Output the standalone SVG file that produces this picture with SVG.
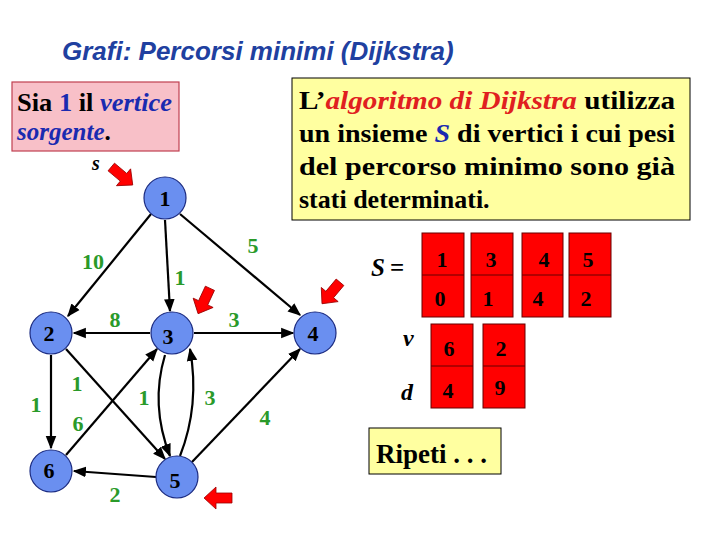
<svg xmlns="http://www.w3.org/2000/svg" width="720" height="540" viewBox="0 0 720 540">
<defs>
<marker id="ah" viewBox="0 0 10 10" refX="9" refY="5" markerWidth="6" markerHeight="6" orient="auto"><path d="M0,1 L10,5 L0,9 Z" fill="#000"/></marker>
<polygon id="ptr" points="-14,-5 2,-5 2,-11 14,0 2,11 2,5 -14,5" fill="#f00" stroke="#900" stroke-width="0.8"/>
</defs>
<style>
.n circle{fill:#6a8ff0;stroke:#1a2a80;stroke-width:1.2}
.n text{font:bold 22px "Liberation Serif",serif;fill:#000;text-anchor:middle}
.e{stroke:#000;stroke-width:2.2;fill:none;marker-end:url(#ah)}
.w{font:bold 22px "Liberation Serif",serif;fill:#2a9a2a;text-anchor:middle}
.box{fill:#f00;stroke:#600;stroke-width:1}
.bt{font:bold 22px "Liberation Serif",serif;fill:#000;text-anchor:middle}
.yt{font:bold 26px "Liberation Serif",serif;fill:#000}
</style>
<rect width="720" height="540" fill="#fff"/>
<text x="62" y="60" font-family="Liberation Sans,sans-serif" font-size="26" font-style="italic" font-weight="bold" fill="#2040a0">Grafi: Percorsi minimi (Dijkstra)</text>
<g id="note1">
<rect x="12" y="82" width="167" height="69" fill="#f8c0c8" stroke="#c04050" stroke-width="1.2"/>
<text x="17" y="111" font-family="Liberation Serif,serif" font-size="25" font-weight="bold" textLength="155" lengthAdjust="spacingAndGlyphs">Sia <tspan fill="#1a2ab0">1</tspan> il <tspan fill="#1a2ab0" font-style="italic">vertice</tspan></text>
<text x="17" y="140" font-family="Liberation Serif,serif" font-size="25" font-weight="bold"><tspan fill="#1a2ab0" font-style="italic">sorgente</tspan>.</text>
</g>
<g id="note2">
<rect x="292" y="78" width="398" height="142" fill="#ffffa0" stroke="#000" stroke-width="1"/>
<text class="yt" x="299" y="109" textLength="376" lengthAdjust="spacingAndGlyphs">L’<tspan fill="#e02020" font-style="italic">algoritmo di Dijkstra</tspan> utilizza</text>
<text class="yt" x="299" y="142" textLength="376" lengthAdjust="spacingAndGlyphs">un insieme <tspan fill="#1a2ab0" font-style="italic">S</tspan> di vertici i cui pesi</text>
<text class="yt" x="299" y="175" textLength="376" lengthAdjust="spacingAndGlyphs">del percorso minimo sono già</text>
<text class="yt" x="299" y="208">stati determinati.</text>
</g>
<g id="edges">
<line class="e" x1="151" y1="214" x2="68" y2="316"/>
<line class="e" x1="165" y1="220" x2="170" y2="311"/>
<line class="e" x1="180" y1="214" x2="300" y2="315"/>
<line class="e" x1="150" y1="333" x2="74" y2="333"/>
<line class="e" x1="194" y1="333" x2="293" y2="333"/>
<line class="e" x1="51" y1="355" x2="51" y2="448"/>
<line class="e" x1="66" y1="349" x2="165" y2="459"/>
<line class="e" x1="66" y1="455" x2="157" y2="349"/>
<path class="e" d="M165,355 Q150,405 170,456"/>
<path class="e" d="M180,456 Q200,405 190,349"/>
<line class="e" x1="192" y1="462" x2="300" y2="349"/>
<line class="e" x1="156" y1="477" x2="74" y2="471"/>
</g>
<g id="weights">
<text class="w" x="93" y="269">10</text>
<text class="w" x="180" y="285">1</text>
<text class="w" x="253" y="253">5</text>
<text class="w" x="115" y="327">8</text>
<text class="w" x="234" y="327">3</text>
<text class="w" x="36" y="412">1</text>
<text class="w" x="77" y="391">1</text>
<text class="w" x="78" y="431">6</text>
<text class="w" x="144" y="405">1</text>
<text class="w" x="210" y="405">3</text>
<text class="w" x="265" y="425">4</text>
<text class="w" x="115" y="502">2</text>
</g>
<g id="n1" class="n"><circle cx="165" cy="198" r="21"/><text x="165" y="206">1</text></g>
<g id="n2" class="n"><circle cx="51" cy="333" r="21"/><text x="49" y="341">2</text></g>
<g id="n3" class="n"><circle cx="172" cy="333" r="21"/><text x="168" y="344">3</text></g>
<g id="n4" class="n"><circle cx="315" cy="333" r="21"/><text x="313" y="341">4</text></g>
<g id="n5" class="n"><circle cx="177" cy="477" r="21"/><text x="175" y="488">5</text></g>
<g id="n6" class="n"><circle cx="51" cy="471" r="21"/><text x="49" y="478">6</text></g>
<text x="92" y="170" font-family="Liberation Serif,serif" font-size="20" font-weight="bold" font-style="italic">s</text>
<use href="#ptr" transform="translate(122,176) rotate(40)"/>
<use href="#ptr" transform="translate(204,301) rotate(115)"/>
<use href="#ptr" transform="translate(331,293) rotate(130)"/>
<use href="#ptr" transform="translate(218,498) rotate(180)"/>
<g id="setS">
<text x="371" y="276" font-family="Liberation Serif,serif" font-size="25" font-weight="bold" font-style="italic">S</text>
<text x="390" y="276" font-family="Liberation Serif,serif" font-size="25" font-weight="bold">=</text>
<rect class="box" x="422" y="233" width="42" height="84"/><line x1="422" y1="275" x2="464" y2="275" stroke="#600"/>
<rect class="box" x="471" y="233" width="42" height="84"/><line x1="471" y1="275" x2="513" y2="275" stroke="#600"/>
<rect class="box" x="522" y="233" width="41" height="84"/><line x1="522" y1="275" x2="563" y2="275" stroke="#600"/>
<rect class="box" x="569" y="233" width="42" height="84"/><line x1="569" y1="275" x2="611" y2="275" stroke="#600"/>
<text class="bt" x="442" y="267">1</text><text class="bt" x="491" y="267">3</text><text class="bt" x="544" y="267">4</text><text class="bt" x="588" y="267">5</text>
<text class="bt" x="440" y="306">0</text><text class="bt" x="488" y="306">1</text><text class="bt" x="538" y="306">4</text><text class="bt" x="586" y="306">2</text>
</g>
<g id="vd">
<text x="403" y="346" font-family="Liberation Serif,serif" font-size="24" font-weight="bold" font-style="italic">v</text>
<text x="401" y="400" font-family="Liberation Serif,serif" font-size="24" font-weight="bold" font-style="italic">d</text>
<rect class="box" x="431" y="324" width="42" height="84"/><line x1="431" y1="366" x2="473" y2="366" stroke="#600"/>
<rect class="box" x="483" y="324" width="42" height="84"/><line x1="483" y1="366" x2="525" y2="366" stroke="#600"/>
<text class="bt" x="449" y="356">6</text><text class="bt" x="501" y="356">2</text>
<text class="bt" x="448" y="398">4</text><text class="bt" x="500" y="395">9</text>
</g>
<g id="ripeti">
<rect x="369" y="428" width="132" height="46" fill="#ffffa0" stroke="#000"/>
<text x="376" y="463" font-family="Liberation Serif,serif" font-size="27" font-weight="bold">Ripeti . . .</text>
</g>
</svg>
